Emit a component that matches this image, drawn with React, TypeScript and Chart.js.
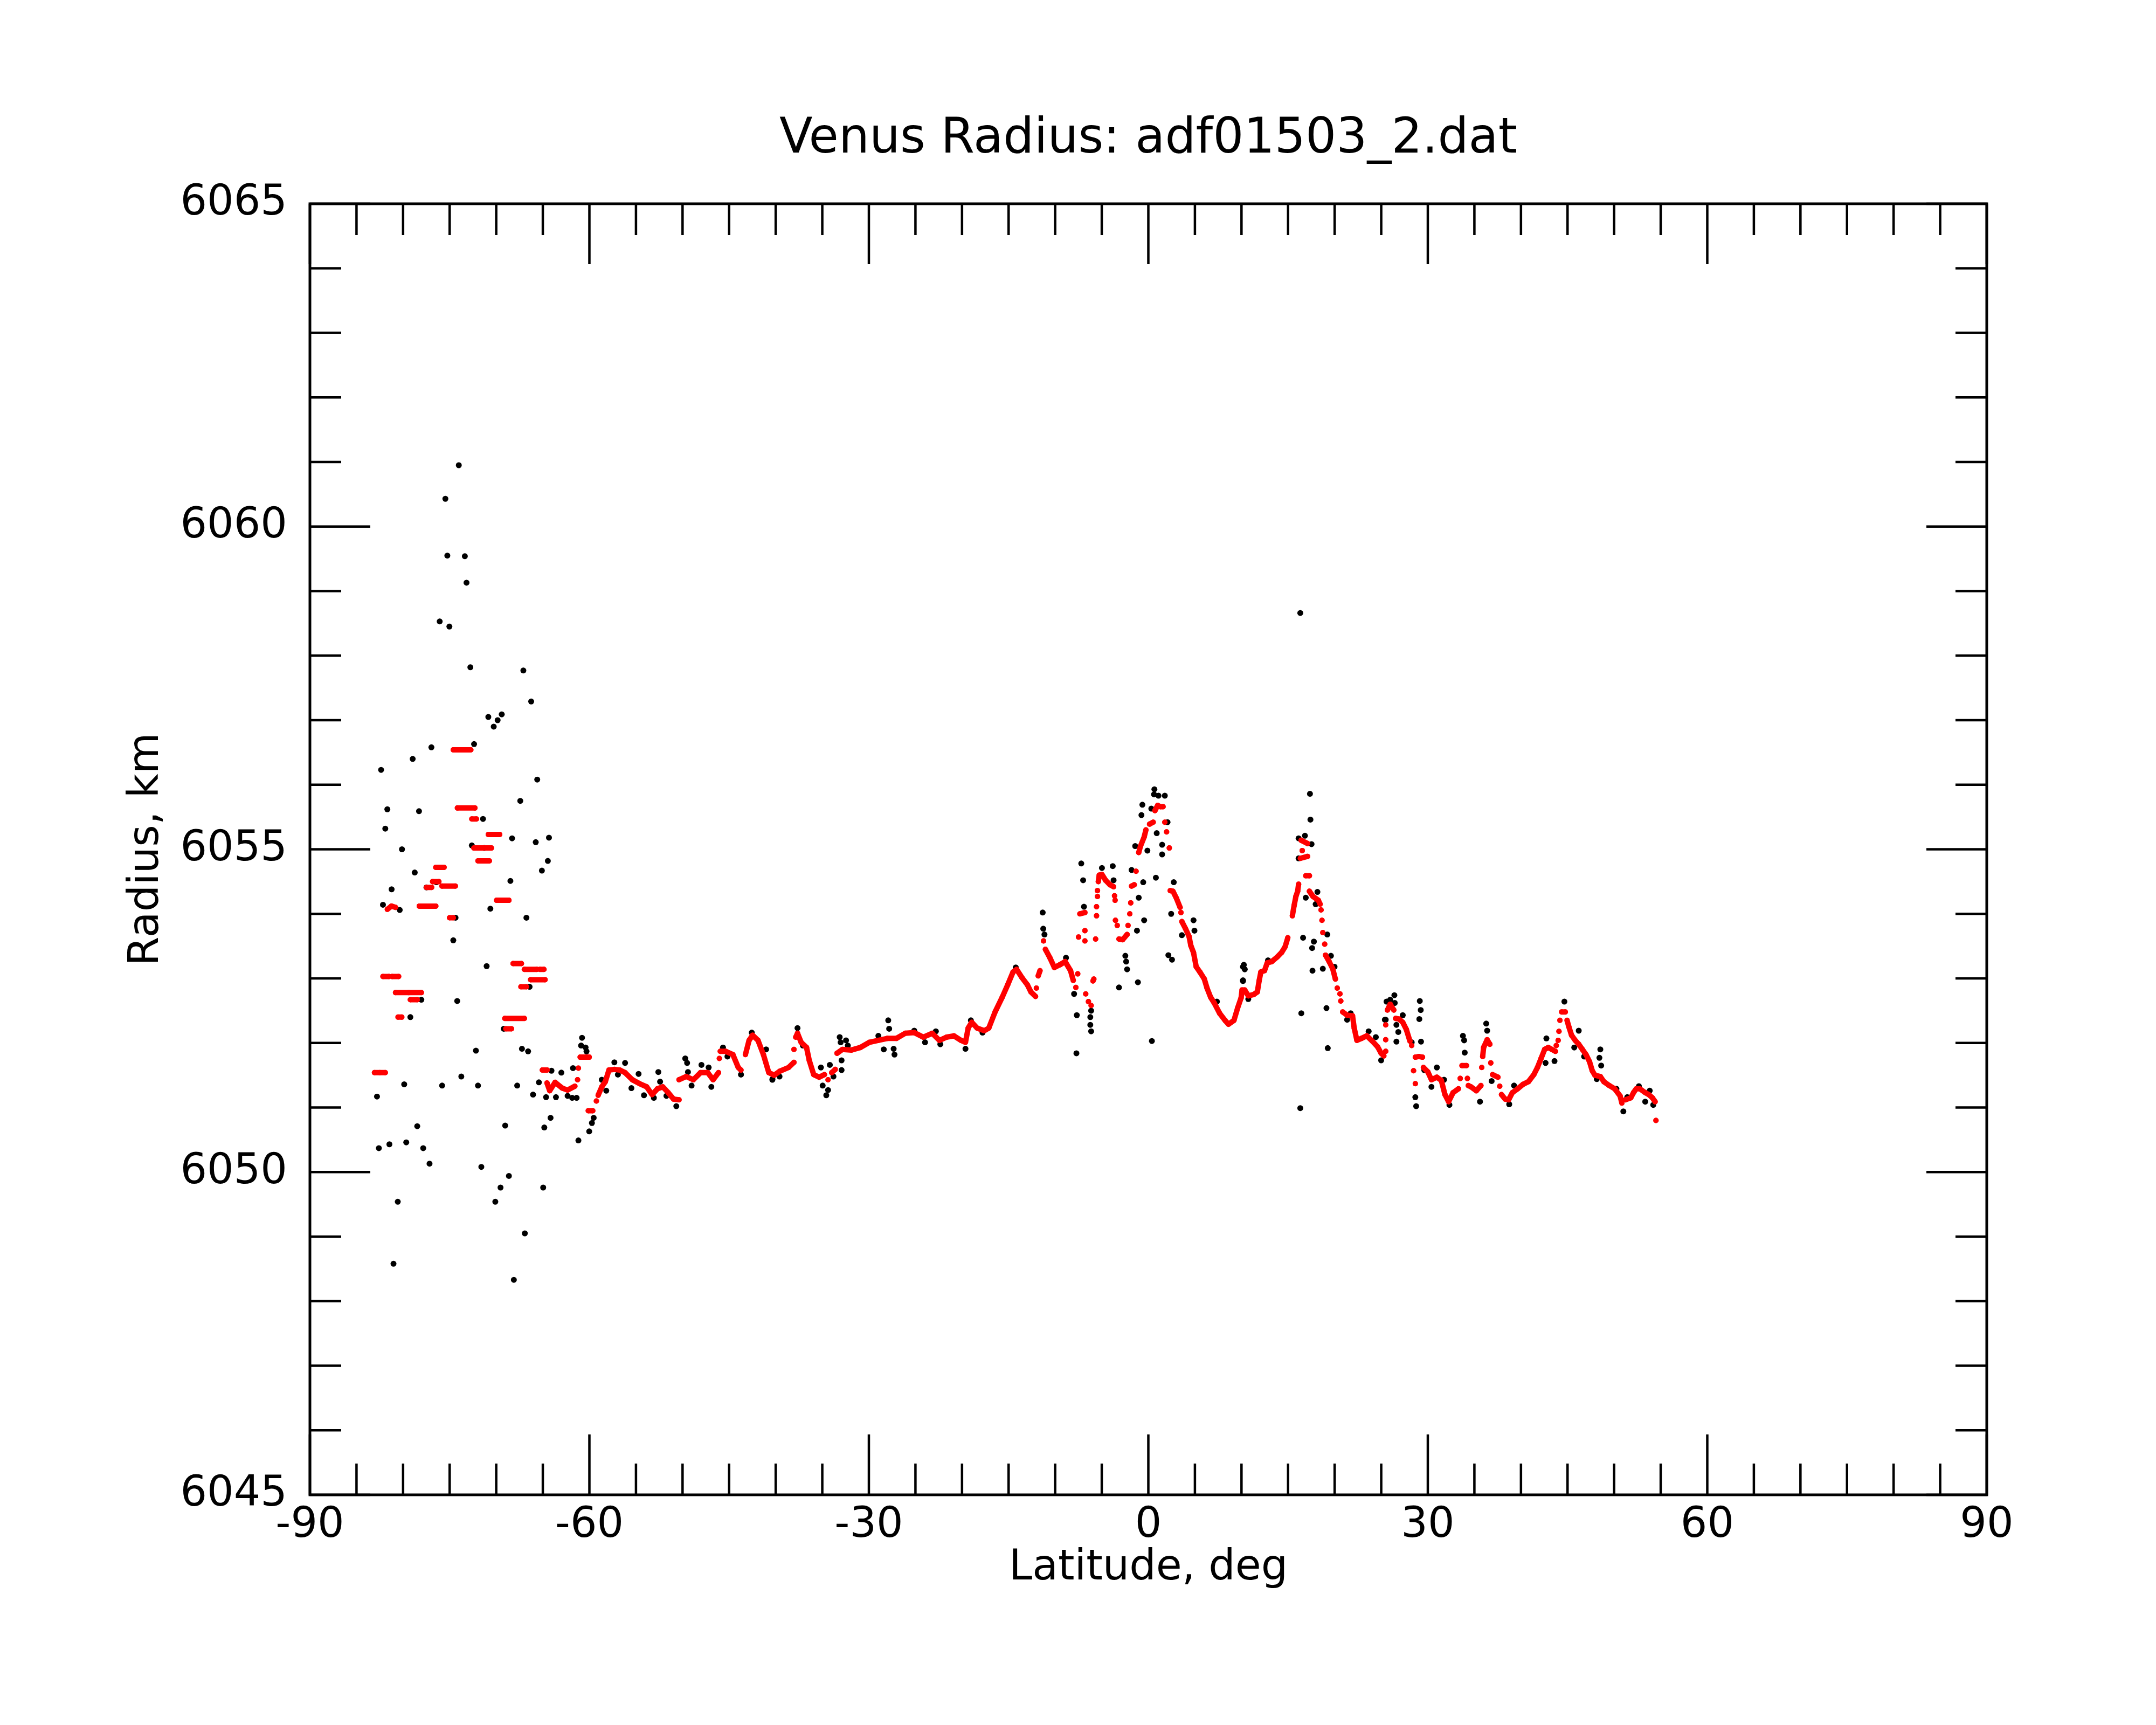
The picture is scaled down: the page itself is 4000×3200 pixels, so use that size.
import React, { useEffect, useRef } from "react";
import Chart from "chart.js/auto";

const titleText = "Venus Radius: adf01503_2.dat";

// axis ticks
const xTicks = [-90, -60, -30, 0, 30, 60, 90];
const yTicks = [6045, 6050, 6055, 6060, 6065];
const xMinorStep = 5;
const yMinorStep = 1;

// raw radius samples [latitude deg, radius km] (black)
const rawSouthPole: [number, number][] = [
    [-74.02, 6060.95], [-75.46, 6060.43], [-75.25, 6059.55], [-73.37, 6059.54], [-73.19, 6059.13],
    [-76.07, 6058.53], [-75.03, 6058.45], [-72.78, 6057.82], [-67.09, 6057.77], [-66.25, 6057.29],
    [-70.85, 6057.05], [-70.27, 6056.9], [-69.85, 6057.0], [-69.41, 6057.09], [-76.96, 6056.58],
    [-72.38, 6056.63], [-82.36, 6056.23], [-78.97, 6056.4], [-65.6, 6056.08], [-67.42, 6055.75],
    [-81.69, 6055.62], [-78.29, 6055.59], [-81.91, 6055.32], [-68.3, 6055.17], [-65.76, 6055.11],
    [-64.34, 6055.18], [-80.12, 6055.0], [-71.42, 6055.47], [-72.62, 6055.06], [-71.29, 6055.02],
    [-65.1, 6054.67], [-64.46, 6054.82], [-78.75, 6054.64], [-81.23, 6054.38], [-77.49, 6054.41],
    [-76.43, 6054.49], [-68.48, 6054.51], [-82.16, 6054.14], [-80.36, 6054.06], [-74.37, 6053.94],
    [-74.61, 6053.59], [-70.63, 6054.08], [-66.76, 6053.94], [-71.03, 6053.19], [-78.04, 6052.67],
    [-79.22, 6052.4], [-74.19, 6052.65], [-66.42, 6052.87], [-69.19, 6052.22], [-72.18, 6051.88],
    [-67.24, 6051.91], [-66.58, 6051.87], [-82.8, 6051.17], [-79.88, 6051.36], [-75.81, 6051.34],
    [-73.75, 6051.48], [-71.96, 6051.34], [-67.75, 6051.34], [-82.6, 6050.37], [-81.47, 6050.43],
    [-79.66, 6050.46], [-78.48, 6050.71], [-77.84, 6050.37], [-77.16, 6050.13], [-69.04, 6050.72],
    [-71.6, 6050.08], [-68.64, 6049.94], [-69.54, 6049.76], [-70.1, 6049.54], [-80.57, 6049.54],
    [-66.93, 6049.05], [-81.03, 6048.58], [-68.11, 6048.33], [-64.96, 6049.76], [-66.05, 6051.2],
];

const rawSouth: [number, number][] = [
    [-60.79, 6052.08], [-60.89, 6051.96], [-60.41, 6051.93], [-60.31, 6051.87], [-64.07, 6051.57],
    [-63.01, 6051.54], [-61.76, 6051.61], [-65.42, 6051.39], [-64.65, 6051.16], [-63.59, 6051.16],
    [-62.34, 6051.18], [-61.85, 6051.15], [-61.37, 6051.15], [-64.17, 6050.84], [-64.84, 6050.69],
    [-61.18, 6050.49], [-60.02, 6050.63], [-59.73, 6050.76], [-59.54, 6050.84], [-58.67, 6051.43],
    [-58.19, 6051.26], [-57.32, 6051.7], [-56.17, 6051.69], [-56.94, 6051.51], [-55.49, 6051.3],
    [-54.72, 6051.52], [-54.14, 6051.19], [-53.08, 6051.15], [-52.6, 6051.55], [-52.41, 6051.4],
    [-51.73, 6051.18], [-50.67, 6051.02], [-49.71, 6051.76], [-49.51, 6051.69], [-49.42, 6051.55],
    [-49.03, 6051.34], [-47.97, 6051.66], [-47.2, 6051.62], [-46.91, 6051.32], [-45.66, 6051.93],
    [-45.18, 6051.79], [-43.73, 6051.51], [-42.57, 6052.16], [-41.03, 6051.9], [-40.35, 6051.44],
    [-39.59, 6051.48], [-40.36, 6051.43], [-37.66, 6052.23], [-37.08, 6051.96], [-35.15, 6051.62],
    [-34.96, 6051.34], [-34.38, 6051.27], [-34.57, 6051.19], [-34.19, 6051.66], [-33.8, 6051.48],
    [-33.13, 6052.09], [-33.03, 6052.01], [-32.93, 6051.73], [-32.93, 6051.58], [-32.45, 6052.04],
    [-32.26, 6051.96], [-28.98, 6052.11], [-28.4, 6051.9], [-27.92, 6052.35], [-27.82, 6052.22],
    [-27.34, 6051.91], [-27.25, 6051.82], [-25.13, 6052.19], [-23.97, 6052.01], [-22.81, 6052.18],
    [-22.33, 6051.98], [-19.63, 6051.91], [-19.05, 6052.35], [-17.8, 6052.16],
];

const rawEquator: [number, number][] = [
    [-14.23, 6053.17], [-11.34, 6054.02], [-11.28, 6053.77], [-11.15, 6053.68], [-8.84, 6053.32],
    [-7.97, 6052.76], [-7.68, 6052.43], [-6.23, 6052.4], [-6.14, 6052.5], [-6.23, 6052.28],
    [-6.14, 6052.18], [-7.72, 6051.84], [-7.2, 6054.78], [-7.0, 6054.52], [-6.91, 6054.11],
    [-4.98, 6054.71], [-3.82, 6054.74], [-3.73, 6054.52], [-3.15, 6052.86], [-2.47, 6053.35],
    [-2.38, 6053.26], [-2.28, 6053.14], [-1.12, 6052.94], [-1.22, 6053.74], [-1.03, 6054.25],
    [-0.45, 6053.9], [-0.55, 6054.49], [-0.74, 6055.53], [-0.64, 6055.69], [-1.8, 6054.68],
    [-1.41, 6055.05], [-0.1, 6054.98], [0.9, 6055.25], [0.81, 6054.56], [1.48, 6055.07],
    [1.48, 6054.92], [1.77, 6055.83], [0.61, 6055.85], [1.09, 6055.83], [0.32, 6055.63],
    [0.65, 6055.93], [2.06, 6055.42], [2.45, 6054.0], [2.73, 6054.49], [2.15, 6053.36],
    [2.54, 6053.29], [0.38, 6052.03], [4.85, 6053.9], [4.95, 6053.74], [3.6, 6053.67],
    [7.36, 6052.64], [10.16, 6053.18], [10.16, 6052.96], [10.25, 6053.21], [10.35, 6053.14],
    [10.16, 6052.97], [10.73, 6052.68], [12.85, 6053.28],
];

const rawNorth: [number, number][] = [
    [17.35, 6055.86], [17.4, 6055.46], [16.81, 6055.21], [16.13, 6055.17], [17.52, 6055.08],
    [16.13, 6054.86], [18.15, 6054.34], [16.9, 6054.25], [17.96, 6054.15], [19.21, 6053.68],
    [16.61, 6053.63], [17.77, 6053.57], [17.58, 6053.47], [17.62, 6053.12], [18.73, 6053.15],
    [19.6, 6053.35], [19.99, 6053.18], [16.42, 6052.46], [19.12, 6052.54], [16.31, 6058.66],
    [16.31, 6050.99], [19.26, 6051.92], [21.72, 6052.46], [21.34, 6052.36], [26.41, 6052.74],
    [25.96, 6052.67], [26.45, 6052.62], [29.14, 6052.65], [29.24, 6052.51], [29.09, 6052.37],
    [27.31, 6052.43], [25.39, 6052.36], [25.57, 6052.64], [25.48, 6052.36], [26.63, 6052.28],
    [26.83, 6052.17], [26.63, 6052.02], [28.27, 6052.01], [29.27, 6052.02], [28.66, 6051.16],
    [28.75, 6051.02], [23.65, 6052.18], [24.42, 6052.09], [24.99, 6051.73], [29.62, 6051.58],
    [30.39, 6051.32], [30.97, 6051.62], [32.32, 6051.04], [33.77, 6052.11], [33.96, 6051.85],
    [33.9, 6052.04], [36.27, 6052.3], [36.37, 6052.19], [36.85, 6051.41], [35.6, 6051.09],
    [31.74, 6051.43], [38.74, 6051.05], [39.26, 6051.34], [42.73, 6052.07], [42.64, 6051.69],
    [43.6, 6051.72], [44.66, 6052.64], [46.2, 6052.19], [45.72, 6051.93], [46.78, 6051.79],
    [48.52, 6051.9], [48.42, 6051.77], [48.61, 6051.65], [48.14, 6051.44], [50.25, 6051.29],
    [50.99, 6050.94], [51.41, 6051.16], [52.66, 6051.33], [53.34, 6051.09], [53.82, 6051.26],
    [54.2, 6051.04],
];

// smoothed radius (red), each inner list is one connected run
const smoothSouthPole: [number, number][][] = [
    [[-83.07, 6051.54], [-82.5, 6051.54], [-81.91, 6051.54]],
    [[-82.16, 6053.03], [-81.51, 6053.03]],
    [[-81.18, 6053.03], [-80.48, 6053.03]],
    [[-81.69, 6054.07], [-81.25, 6054.12], [-80.81, 6054.1]],
    [[-80.81, 6052.78], [-79.4, 6052.78], [-78.04, 6052.78]],
    [[-80.54, 6052.4], [-80.14, 6052.4]],
    [[-79.22, 6052.67], [-78.48, 6052.67]],
    [[-78.26, 6054.12], [-77.4, 6054.12], [-76.49, 6054.12]],
    [[-77.49, 6054.41], [-76.94, 6054.41]],
    [[-76.83, 6054.5], [-76.16, 6054.5]],
    [[-76.49, 6054.72], [-75.6, 6054.72]],
    [[-75.83, 6054.43], [-74.39, 6054.43]],
    [[-75.01, 6053.94], [-74.61, 6053.94]],
    [[-74.61, 6056.54], [-73.7, 6056.54], [-72.73, 6056.54]],
    [[-74.17, 6055.64], [-72.29, 6055.64]],
    [[-72.62, 6055.47], [-72.13, 6055.47]],
    [[-72.4, 6055.02], [-70.52, 6055.02]],
    [[-71.96, 6054.82], [-70.74, 6054.82]],
    [[-70.85, 6055.23], [-69.63, 6055.23]],
    [[-69.96, 6054.21], [-68.64, 6054.21]],
    [[-69.08, 6052.38], [-66.98, 6052.38]],
    [[-68.97, 6052.22], [-68.37, 6052.22]],
    [[-68.19, 6053.23], [-67.3, 6053.23]],
    [[-67.35, 6052.87], [-66.76, 6052.87]],
    [[-66.98, 6053.14], [-65.64, 6053.14]],
    [[-66.31, 6052.98], [-64.76, 6052.98]],
    [[-65.32, 6053.14], [-64.88, 6053.14]],
    [[-65.05, 6051.58], [-64.54, 6051.58]],
];

const smoothSouth: [number, number][][] = [
    [[-64.55, 6051.38], [-64.26, 6051.26], [-63.68, 6051.39], [-62.91, 6051.3], [-62.34, 6051.27], [-61.56, 6051.33]],
    [[-61.27, 6051.43]],
    [[-61.18, 6051.61]],
    [[-60.99, 6051.78], [-60.02, 6051.78]],
    [[-60.12, 6050.95], [-59.64, 6050.95]],
    [[-59.25, 6051.1]],
    [[-59.06, 6051.19], [-58.67, 6051.32], [-58.29, 6051.4], [-57.9, 6051.58], [-57.32, 6051.59],
     [-56.74, 6051.58], [-56.17, 6051.54], [-55.39, 6051.43], [-54.62, 6051.37], [-53.85, 6051.32],
     [-53.27, 6051.2], [-52.7, 6051.29], [-52.12, 6051.32], [-51.54, 6051.23], [-50.96, 6051.13],
     [-50.38, 6051.12]],
    [[-50.38, 6051.43], [-49.61, 6051.48], [-48.84, 6051.43], [-48.07, 6051.54], [-47.3, 6051.54],
     [-46.72, 6051.43], [-46.14, 6051.54]],
    [[-46.05, 6051.76]],
    [[-45.95, 6051.87], [-45.37, 6051.87], [-44.6, 6051.82], [-44.02, 6051.62], [-43.73, 6051.58]],
    [[-43.25, 6051.82], [-42.86, 6052.04], [-42.48, 6052.12], [-41.9, 6052.04], [-41.32, 6051.82],
     [-40.74, 6051.54], [-40.16, 6051.5], [-39.59, 6051.56], [-38.62, 6051.62], [-38.04, 6051.7]],
    [[-38.04, 6051.9]],
    [[-37.85, 6052.09], [-37.66, 6052.15], [-37.27, 6052.01], [-36.69, 6051.93], [-36.4, 6051.73],
     [-35.92, 6051.51], [-35.34, 6051.47], [-34.77, 6051.51]],
    [[-34.38, 6051.43]],
    [[-33.99, 6051.54], [-33.61, 6051.59]],
    [[-33.42, 6051.84], [-32.84, 6051.9], [-31.87, 6051.89], [-30.91, 6051.93], [-29.95, 6052.01],
     [-28.98, 6052.04], [-28.02, 6052.07], [-27.05, 6052.07], [-26.09, 6052.15], [-25.13, 6052.16],
     [-24.16, 6052.09], [-23.2, 6052.15], [-22.43, 6052.04], [-21.66, 6052.09], [-20.88, 6052.11],
     [-20.11, 6052.04], [-19.63, 6052.01], [-19.34, 6052.23], [-18.96, 6052.32], [-18.38, 6052.23],
     [-17.61, 6052.19], [-17.13, 6052.23], [-16.45, 6052.48], [-15.68, 6052.71], [-15.1, 6052.9],
     [-14.52, 6053.1], [-14.14, 6053.14], [-13.56, 6053.01], [-12.98, 6052.9], [-12.6, 6052.79],
     [-12.11, 6052.72]],
];

const smoothEquator: [number, number][][] = [
    [[-12.02, 6052.85]],
    [[-11.82, 6053.04], [-11.63, 6053.12]],
    [[-11.25, 6053.58]],
    [[-11.05, 6053.45], [-10.57, 6053.32], [-10.09, 6053.17], [-9.51, 6053.21], [-8.93, 6053.26],
     [-8.35, 6053.12], [-8.06, 6052.97]],
    [[-7.78, 6052.86]], [[-7.58, 6053.07]], [[-6.72, 6052.76]], [[-6.43, 6052.64]], [[-6.14, 6052.58]],
    [[-5.94, 6052.96]], [[-5.85, 6052.99]], [[-7.49, 6053.64]], [[-6.81, 6053.58]],
    [[-7.35, 6054.0], [-6.81, 6054.02]],
    [[-6.81, 6053.74]], [[-5.66, 6053.61]], [[-5.56, 6053.97]], [[-5.56, 6054.11]], [[-5.46, 6054.27]],
    [[-5.46, 6054.36]],
    [[-5.37, 6054.5], [-5.27, 6054.6], [-4.98, 6054.61], [-4.59, 6054.52], [-4.11, 6054.45], [-3.73, 6054.42]],
    [[-3.63, 6054.28]], [[-3.57, 6054.21]], [[-3.53, 6053.9]], [[-3.34, 6053.82]],
    [[-3.15, 6053.61], [-2.76, 6053.6], [-2.28, 6053.68]],
    [[-2.18, 6053.82]], [[-1.99, 6054.0]], [[-1.89, 6054.17]],
    [[-1.8, 6054.43], [-1.51, 6054.45]],
    [[-1.32, 6054.66]],
    [[-1.03, 6054.95], [-0.84, 6055.05], [-0.45, 6055.19], [-0.26, 6055.3]],
    [[0.13, 6055.39], [0.52, 6055.42]],
    [[0.71, 6055.6], [1.0, 6055.68], [1.29, 6055.66], [1.58, 6055.66]],
    [[1.77, 6055.42]], [[1.96, 6055.27]], [[2.25, 6055.02]],
    [[2.35, 6054.36], [2.64, 6054.35], [3.02, 6054.24], [3.41, 6054.1]],
    [[3.5, 6054.02]],
    [[3.6, 6053.88], [3.99, 6053.77], [4.37, 6053.65], [4.56, 6053.51], [4.85, 6053.4], [5.14, 6053.18],
     [5.53, 6053.1], [6.01, 6052.99], [6.3, 6052.85], [6.68, 6052.71], [7.07, 6052.62], [7.65, 6052.46],
     [8.23, 6052.35], [8.61, 6052.29], [9.19, 6052.35], [9.58, 6052.54], [9.96, 6052.7], [10.06, 6052.82],
     [10.35, 6052.82], [10.73, 6052.73], [11.31, 6052.75], [11.7, 6052.79], [11.89, 6052.96], [12.08, 6053.1],
     [12.47, 6053.12], [12.76, 6053.24], [13.24, 6053.26], [13.82, 6053.33], [14.3, 6053.4], [14.68, 6053.49],
     [14.97, 6053.63]],
];

const smoothNorth: [number, number][][] = [
    [[15.46, 6053.97], [15.65, 6054.13], [15.84, 6054.27], [16.03, 6054.35], [16.13, 6054.46]],
    [[16.9, 6054.59], [17.29, 6054.59]],
    [[16.32, 6054.86], [17.09, 6054.89]],
    [[16.52, 6054.98]],
    [[16.4, 6055.14], [17.09, 6055.09]],
    [[17.29, 6054.35], [17.67, 6054.27], [18.25, 6054.21], [18.44, 6054.15]],
    [[18.54, 6054.06]], [[18.64, 6053.9]], [[18.73, 6053.71]], [[18.93, 6053.53]],
    [[19.02, 6053.36], [19.41, 6053.26], [19.79, 6053.15], [20.08, 6052.99]],
    [[20.28, 6052.85]], [[20.57, 6052.76]], [[20.66, 6052.65]],
    [[20.86, 6052.48], [21.34, 6052.43], [21.92, 6052.42], [22.1, 6052.23], [22.39, 6052.04], [22.87, 6052.07],
     [23.45, 6052.11], [24.03, 6052.03], [24.61, 6051.94], [24.99, 6051.84], [25.28, 6051.8]],
    [[25.48, 6051.87]], [[25.48, 6052.05]], [[25.48, 6052.28]],
    [[25.67, 6052.51], [25.96, 6052.6], [26.35, 6052.51]],
    [[26.54, 6052.38], [26.92, 6052.37], [27.31, 6052.32], [27.69, 6052.21], [28.08, 6052.03]],
    [[28.27, 6051.96]],
    [[28.66, 6051.78], [29.04, 6051.79], [29.43, 6051.78]],
    [[28.47, 6051.57]], [[28.66, 6051.37]],
    [[29.53, 6051.62], [30.01, 6051.55], [30.39, 6051.43], [30.97, 6051.47], [31.45, 6051.42], [31.84, 6051.2],
     [32.23, 6051.09], [32.71, 6051.23], [33.29, 6051.29]],
    [[33.48, 6051.45]],
    [[33.67, 6051.65], [34.15, 6051.65]],
    [[34.25, 6051.45]],
    [[34.35, 6051.34], [34.64, 6051.32], [35.21, 6051.26], [35.7, 6051.34]],
    [[35.79, 6051.62]],
    [[35.89, 6051.79], [35.99, 6051.93], [36.37, 6052.05], [36.66, 6051.98]],
    [[36.76, 6051.69]],
    [[36.95, 6051.51], [37.53, 6051.47]],
    [[37.72, 6051.33]],
    [[37.91, 6051.2], [38.3, 6051.13], [38.68, 6051.12], [39.07, 6051.23], [39.65, 6051.29], [40.23, 6051.36],
     [40.8, 6051.4], [41.38, 6051.51], [41.77, 6051.62], [42.16, 6051.76], [42.54, 6051.9], [42.93, 6051.93],
     [43.31, 6051.9], [43.7, 6051.87]],
    [[43.79, 6051.96]], [[43.99, 6052.04]], [[44.08, 6052.18]], [[44.18, 6052.35]],
    [[44.37, 6052.48], [44.76, 6052.48]],
    [[44.95, 6052.35], [45.14, 6052.25], [45.43, 6052.12], [45.82, 6052.04], [46.2, 6051.98], [46.59, 6051.9],
     [46.98, 6051.82], [47.36, 6051.71], [47.65, 6051.57], [47.94, 6051.5], [48.52, 6051.48], [48.9, 6051.4],
     [49.48, 6051.34], [50.06, 6051.29], [50.64, 6051.18], [50.83, 6051.07]],
    [[51.22, 6051.12], [51.79, 6051.15], [52.08, 6051.23], [52.37, 6051.29], [52.76, 6051.29], [53.34, 6051.23],
     [53.72, 6051.2], [54.11, 6051.15], [54.4, 6051.09]],
    [[54.49, 6050.8]],
];

const toPoints = (list: [number, number][]) => list.map(([x, y]) => ({ x, y }));

// runs joined with a null point so the line breaks between them
const joinRuns = (runs: [number, number][][]) =>
    runs.flatMap((run) => [...toPoints(run), { x: null as any, y: null as any }]);

// title centred over the plot box, inward tick marks on all four sides, and the box
const frameTicks = {
    id: "frameTicks",
    afterDatasetsDraw(chart: any) {
        const { ctx, chartArea: a, scales } = chart;
        const sx = scales.x;
        const sy = scales.y;
        ctx.save();
        ctx.strokeStyle = "#000";
        ctx.lineWidth = 4.5;
        ctx.beginPath();
        for (let v = sx.min; v <= sx.max + 1e-6; v += xMinorStep) {
            const px = sx.getPixelForValue(v);
            const len = xTicks.includes(v) ? 112 : 58;
            ctx.moveTo(px, a.bottom);
            ctx.lineTo(px, a.bottom - len);
            ctx.moveTo(px, a.top);
            ctx.lineTo(px, a.top + len);
        }
        for (let v = sy.min; v <= sy.max + 1e-6; v += yMinorStep) {
            const py = sy.getPixelForValue(v);
            const len = yTicks.includes(v) ? 112 : 58;
            ctx.moveTo(a.left, py);
            ctx.lineTo(a.left + len, py);
            ctx.moveTo(a.right, py);
            ctx.lineTo(a.right - len, py);
        }
        ctx.stroke();
        ctx.lineWidth = 5;
        ctx.strokeRect(a.left, a.top, a.right - a.left, a.bottom - a.top);

        ctx.fillStyle = "#000";
        ctx.font = "90px 'DejaVu Sans'";
        ctx.textAlign = "center";
        ctx.textBaseline = "alphabetic";
        ctx.fillText(titleText, (a.left + a.right) / 2, a.top - 95);
        ctx.restore();
    },
};

const App = () => {
    const canvasRef = useRef<HTMLCanvasElement | null>(null);

    useEffect(() => {
        const canvasElm = canvasRef.current;
        if (!canvasElm) return;

        Chart.defaults.font.family = "'DejaVu Sans'";
        Chart.defaults.color = "#000";

        const smoothData = [
            ...joinRuns(smoothSouthPole),
            ...joinRuns(smoothSouth),
            ...joinRuns(smoothEquator),
            ...joinRuns(smoothNorth),
        ];
        const rawData = [
            ...toPoints(rawSouthPole),
            ...toPoints(rawSouth),
            ...toPoints(rawEquator),
            ...toPoints(rawNorth),
        ];

        const chart = new Chart(canvasElm, {
            type: "scatter",
            data: {
                datasets: [
                    {
                        label: "smoothed",
                        data: smoothData,
                        showLine: true,
                        spanGaps: false,
                        borderColor: "#ff0000",
                        borderWidth: 10,
                        borderCapStyle: "round",
                        borderJoinStyle: "round",
                        pointRadius: 5,
                        pointBackgroundColor: "#ff0000",
                        pointBorderWidth: 0,
                        order: 0,
                    },
                    {
                        label: "raw",
                        data: rawData,
                        pointRadius: 5.5,
                        pointBackgroundColor: "#000",
                        pointBorderWidth: 0,
                        order: 1,
                    },
                ],
            },
            options: {
                responsive: false,
                animation: false,
                devicePixelRatio: 1,
                layout: { padding: { left: 0, right: 314, top: 378, bottom: 0 } },
                plugins: {
                    legend: { display: false },
                    tooltip: { enabled: false },
                    title: { display: false },
                },
                scales: {
                    x: {
                        type: "linear",
                        min: -90,
                        max: 90,
                        grid: { display: false, drawTicks: false },
                        border: { display: false },
                        afterBuildTicks: (s: any) => {
                            s.ticks = xTicks.map((v) => ({ value: v }));
                        },
                        afterFit: (s: any) => {
                            s.height = 427;
                            s.paddingLeft = 0;
                            s.paddingRight = 0;
                        },
                        ticks: {
                            font: { size: 78 },
                            color: "#000",
                            padding: 11,
                            maxRotation: 0,
                            autoSkip: false,
                            callback: (v: any) => String(v),
                        },
                        title: {
                            display: true,
                            text: "Latitude, deg",
                            color: "#000",
                            font: { size: 78 },
                            padding: { top: 0, bottom: 243 },
                        },
                    },
                    y: {
                        type: "linear",
                        min: 6045,
                        max: 6065,
                        grid: { display: false, drawTicks: false },
                        border: { display: false },
                        afterBuildTicks: (s: any) => {
                            s.ticks = yTicks.map((v) => ({ value: v }));
                        },
                        afterFit: (s: any) => {
                            s.width = 575;
                            s.paddingTop = 0;
                            s.paddingBottom = 0;
                        },
                        ticks: {
                            font: { size: 78 },
                            color: "#000",
                            padding: 42,
                            autoSkip: false,
                            callback: (v: any) => String(v),
                        },
                        title: {
                            display: true,
                            text: "Radius, km",
                            color: "#000",
                            font: { size: 78 },
                            padding: { top: 226, bottom: 0 },
                        },
                    },
                },
            },
            plugins: [frameTicks],
        });

        return () => {
            chart.destroy();
        };
    }, []);

    return (
        <div style={{ position: "absolute", left: 0, top: 0, width: 4000, height: 3200, background: "#fff" }}>
            <canvas ref={canvasRef} width={4000} height={3200} style={{ display: "block" }} />
        </div>
    );
};

export default App;
